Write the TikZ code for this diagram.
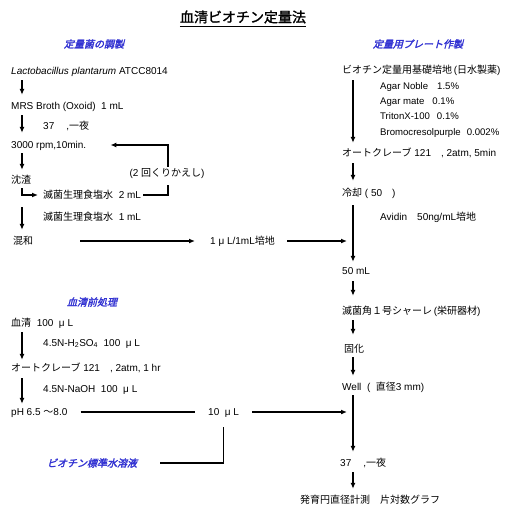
\documentclass[tikz,border=0pt]{standalone}
\usepackage{fontspec}
\setmainfont{Liberation Sans}
\newfontfamily\jp{Noto Sans CJK JP}
\newfontfamily\jpb{Noto Sans CJK JP}[FakeBold=1.5]
\newfontfamily\jph{Noto Sans CJK JP}[FakeSlant=0.25,FakeBold=2]
\newcommand\J[1]{{\jp #1}}
\usetikzlibrary{arrows.meta}
\definecolor{hblue}{RGB}{50,50,210}
\begin{document}
\begin{tikzpicture}[x=1pt,y=-1pt,
  txt/.style={anchor=west,inner sep=0pt,text height=8pt,text depth=2pt,font=\fontsize{10}{12}\selectfont},
  sub/.style={anchor=west,inner sep=0pt,text height=7pt,text depth=2pt,font=\fontsize{9.6}{11}\selectfont},
  ctxt/.style={txt,anchor=center},
  head/.style={inner sep=0pt,text=hblue,font=\jph\fontsize{10}{12}\selectfont},
  arr/.style={line width=1.7pt,-{Latex[length=6pt,width=5pt]}},
  ln/.style={line width=1.7pt}]
\useasboundingbox (0,0) rectangle (507,509);
\fill[white] (0,0) rectangle (507,509);
\coordinate (ax) at (22,0);
\coordinate (bx) at (353,0);
\coordinate (lx) at (168,0);
% title
\node[inner sep=0pt,font=\jpb\fontsize{14}{16}\selectfont] (title) at (243,17) {血清ビオチン定量法};
\draw[line width=1pt] ([yshift=-3pt]title.south west) -- ([yshift=-3pt]title.south east);
% headers
\node[head] (h1) at (94,44) {定量菌の調製};
\node[head] (h2) at (418,44) {定量用プレート作製};
\node[head] (h3) at (92,302) {血清前処理};
\node[head] (h4) at (92,463) {ビオチン標準水溶液};
% left column
\node[txt] (lacto) at (11,71) {\textit{Lactobacillus plantarum} ATCC8014};
\node[txt] (mrs) at (11,106) {MRS Broth (Oxoid)\ \ 1 mL};
\node[txt] (o37a) at (43,126) {37\hspace{12pt},\J{一夜}};
\node[txt] (rpm) at (11,145) {3000 rpm,10min.};
\node[txt] (chinsa) at (11,180) {\J{沈渣}};
\node[txt] (salt2) at (43,195) {\J{滅菌生理食塩水}\ \ 2 mL};
\node[txt] (salt1) at (43,217) {\J{滅菌生理食塩水}\ \ 1 mL};
\node[txt] (kongo) at (13,241) {\J{混和}};
\node[txt] (baichi) at (210,241) {1 μ L/1mL\J{培地}};
\node[ctxt] (rep) at (167,173) {(2 \J{回くりかえし})};
\draw[arr] ([yshift=-4pt]lacto.south -| ax) -- ([yshift=6pt]mrs.north -| ax);
\draw[arr] ([yshift=-4pt]mrs.south -| ax) -- ([yshift=7pt]rpm.north -| ax);
\draw[arr] ([yshift=-3pt]rpm.south -| ax) -- ([yshift=5pt]chinsa.north -| ax);
\draw[arr] ([yshift=-3pt]chinsa.south -| ax) |- ([xshift=-5pt]salt2.west);
\draw[arr] ([yshift=-7pt]salt2.south -| ax) -- ([yshift=6pt]kongo.north -| ax);
\draw[ln] ([xshift=2pt]salt2.east) -| ([yshift=-7pt]lx |- rep.south);
\draw[arr] ([yshift=1pt]lx |- rep.north) |- ([xshift=24pt]rpm.east);
\path (bx |- baichi.east) coordinate (j1);
\draw[arr] ([xshift=47pt]kongo.east) -- ([xshift=-15pt]baichi.west);
\draw[arr] ([xshift=12pt]baichi.east) -- ([xshift=-6pt]j1);
% serum pretreatment
\node[txt] (serum) at (11,323) {\J{血清}\ \ 100\ \ μ L};
\node[txt] (h2so4) at (43,343) {4.5N-H\textsubscript{2}SO\textsubscript{4}\ \ 100\ \ μ L};
\node[txt] (auto2) at (11,368) {\J{オートクレーブ}\ 121\hspace{10pt}, 2atm, 1 hr};
\node[txt] (naoh) at (43,389) {4.5N-NaOH\ \ 100\ \ μ L};
\node[txt] (ph) at (11,412) {pH 6.5\ \J{～}8.0};
\node[txt] (tenul) at (208,412) {10\ \ μ L};
\draw[arr] ([yshift=-4pt]serum.south -| ax) -- ([yshift=3pt]auto2.north -| ax);
\draw[arr] ([yshift=-5pt]auto2.south -| ax) -- ([yshift=3pt]ph.north -| ax);
\draw[ln] ([xshift=13pt]ph.east) -- ([xshift=-13pt]tenul.west);
\path (bx |- tenul.east) coordinate (j2);
\draw[arr] ([xshift=13pt]tenul.east) -- ([xshift=-6pt]j2);
\draw[ln] ([yshift=-10pt]tenul.south) |- ([xshift=23pt]h4.east);
% right column
\node[txt] (kiso) at (342,70) {\J{ビオチン定量用基礎培地}\,(\J{日水製薬})};
\node[sub] (ag1) at (380,87) {Agar Noble\hspace{9pt}1.5\%};
\node[sub] (ag2) at (380,102) {Agar mate\hspace{8pt}0.1\%};
\node[sub] (ag3) at (380,117) {TritonX-100\hspace{7pt}0.1\%};
\node[sub] (ag4) at (380,133) {Bromocresolpurple\hspace{6pt}0.002\%};
\node[txt] (autoR) at (342,153) {\J{オートクレーブ}\ 121\hspace{10pt}, 2atm, 5min};
\node[txt] (cool) at (342,193) {\J{冷却} ( 50\hspace{10pt})};
\node[txt] (avidin) at (380,217) {Avidin\hspace{10pt}50ng/mL\J{培地}};
\node[txt] (ml50) at (342,271) {50 mL};
\node[txt] (plate) at (342,311) {\J{滅菌角１号シャーレ}\,(\J{栄研器材})};
\node[txt] (koka) at (344,349) {\J{固化}};
\node[txt] (well) at (342,387) {Well\ \ (\ \ \J{直径}3 mm)};
\node[txt] (incub) at (340,463) {37\hspace{12pt},\J{一夜}};
\node[ctxt] (result) at (370,500) {\J{発育円直径計測　片対数グラフ}};
\draw[arr] ([yshift=-5pt]kiso.south -| bx) -- ([yshift=5pt]autoR.north -| bx);
\draw[arr] ([yshift=-5pt]autoR.south -| bx) -- ([yshift=7pt]cool.north -| bx);
\draw[arr] ([yshift=-7pt]cool.south -| bx) -- ([yshift=4pt]ml50.north -| bx);
\draw[arr] ([yshift=-5pt]ml50.south -| bx) -- ([yshift=10pt]plate.north -| bx);
\draw[arr] ([yshift=-4pt]plate.south -| bx) -- ([yshift=9pt]koka.north -| bx);
\draw[arr] ([yshift=-3pt]koka.south -| bx) -- ([yshift=6pt]well.north -| bx);
\draw[arr] ([yshift=-3pt]well.south -| bx) -- ([yshift=6pt]incub.north -| bx);
\draw[arr] ([yshift=-4pt]incub.south -| bx) -- ([yshift=6pt]result.north -| bx);
\end{tikzpicture}
\end{document}
